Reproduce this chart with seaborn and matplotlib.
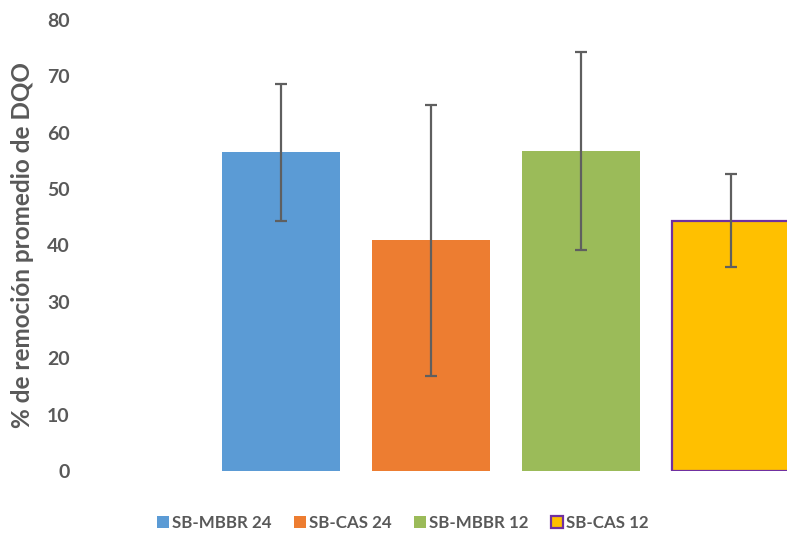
import matplotlib
matplotlib.use("Agg")
import matplotlib.pyplot as plt
import seaborn as sns
import pandas as pd
import numpy as np
from matplotlib.patches import Patch

# Mean COD removal per reactor configuration, with min/max range
categories = ["SB-MBBR 24", "SB-CAS 24", "SB-MBBR 12", "SB-CAS 12"]
means = [56.5, 40.9, 56.8, 44.3]
err_low = [44.4, 16.9, 39.2, 36.1]
err_high = [68.7, 64.9, 74.3, 52.6]
colors = ["#5B9BD5", "#ED7D31", "#9BBB59", "#FFC000"]
edge_colors = ["none", "none", "none", "#7030A0"]
y_ticks = [0, 10, 20, 30, 40, 50, 60, 70, 80]
y_label = "% de remoción promedio de DQO"

sns.set_theme(style="white")
font_list = ["Lato", "DejaVu Sans"]
plt.rcParams["font.family"] = font_list
text_color = "#595959"

df = pd.DataFrame({"grupo": categories, "media": means})

fig = plt.figure(figsize=(7.87, 5.33), dpi=100)
W, H = 787, 533
left_px, right_px = 80, 787
top_px, bottom_px = 20, 471
ax = fig.add_axes([left_px / W, (H - bottom_px) / H,
                   (right_px - left_px) / W, (bottom_px - top_px) / H])

sns.barplot(data=df, x="grupo", y="media", hue="grupo", palette=colors,
            saturation=1, width=0.787, dodge=False, legend=False, ax=ax,
            errorbar=None)

for patch, ec in zip(ax.patches, edge_colors):
    if ec != "none":
        patch.set_edgecolor(ec)
        patch.set_linewidth(1.6)
    else:
        patch.set_linewidth(0)

x_pos = np.arange(len(categories))
yerr = [np.array(means) - np.array(err_low), np.array(err_high) - np.array(means)]
ax.errorbar(x_pos, means, yerr=yerr, fmt="none", ecolor="#5F5F5F",
            elinewidth=1.6, capsize=4.3, capthick=1.6, zorder=5)

# Category spacing of 150 px, first bar centred at x=281 px
px_per_unit = 150
ax.set_xlim((left_px - 281) / px_per_unit, (right_px - 281) / px_per_unit)
ax.set_ylim(0, 80)
ax.set_yticks(y_ticks)
ax.set_yticklabels([str(t) for t in y_ticks], fontsize=14,
                   fontweight="bold", color=text_color)
ax.tick_params(axis="y", length=0, pad=7.5)
ax.set_xticks([])
ax.set_xlabel("")
ax.set_ylabel(y_label, fontsize=17.5, fontweight="bold", color=text_color)
ax.yaxis.label.set_va("center")
ax.yaxis.set_label_coords((23 - left_px) / (right_px - left_px), 0.5)
for s in ax.spines.values():
    s.set_visible(False)

handles = [Patch(facecolor=c, edgecolor=(ec if ec != "none" else c),
                 linewidth=(1.6 if ec != "none" else 0))
           for c, ec in zip(colors, edge_colors)]
leg = fig.legend(handles, categories, loc="center",
                 bbox_to_anchor=(403 / W, 1 - 523 / H), ncol=4, frameon=False,
                 handlelength=0.71, handleheight=0.71, handletextpad=0.2,
                 columnspacing=1.3,
                 prop={"family": font_list, "weight": "bold", "size": 12.2})
for t in leg.get_texts():
    t.set_color(text_color)

fig.savefig("out.png", dpi=100)
